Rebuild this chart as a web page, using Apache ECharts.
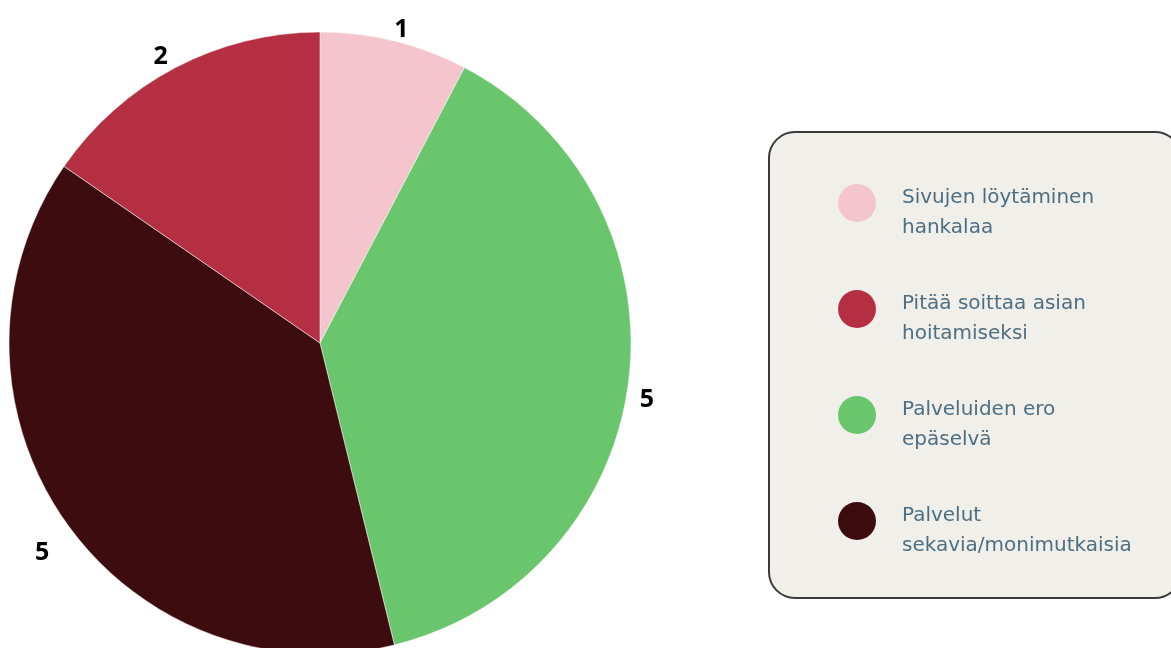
<!DOCTYPE html>
<html>
<head>
<meta charset="utf-8">
<script src="https://cdn.jsdelivr.net/npm/echarts@6/dist/echarts.min.js"></script>
<style>
html,body{margin:0;padding:0;background:#ffffff;}
#chart{width:1171px;height:648px;}
</style>
</head>
<body>
<div id="chart"></div>
<script>
// Slices in drawing (clockwise) order
const categories = [
  'Sivujen löytäminen hankalaa',
  'Palveluiden ero epäselvä',
  'Palvelut sekavia/monimutkaisia',
  'Pitää soittaa asian hoitamiseksi'
];
const values = [1, 5, 5, 2];
const colors = ['#f4c5cc', '#6ac66c', '#3c0c0e', '#b52f42'];
// label nudges (style only)
const labelOffsets = [[-8, 0], [-6, 18], [0, 26], [3, 0]];
// Legend order and its wrapped labels
const legendOrder = [
  'Sivujen löytäminen hankalaa',
  'Pitää soittaa asian hoitamiseksi',
  'Palveluiden ero epäselvä',
  'Palvelut sekavia/monimutkaisia'
];
const legendLines = {
  'Sivujen löytäminen hankalaa': ['Sivujen löytäminen', 'hankalaa'],
  'Pitää soittaa asian hoitamiseksi': ['Pitää soittaa asian', 'hoitamiseksi'],
  'Palveluiden ero epäselvä': ['Palveluiden ero', 'epäselvä'],
  'Palvelut sekavia/monimutkaisia': ['Palvelut', 'sekavia/monimutkaisia']
};

const chart = echarts.init(document.getElementById('chart'), null, {renderer: 'canvas'});
chart.setOption({
  animation: false,
  backgroundColor: '#ffffff',
  graphic: [{
    type: 'rect',
    left: 768, top: 131,
    shape: {width: 412, height: 466, r: 26},
    style: {fill: '#f0efea', stroke: '#3a3a3a', lineWidth: 2},
    z: -1
  }],
  legend: {
    orient: 'vertical',
    left: 838,
    top: 168,
    padding: 0,
    data: legendOrder,
    icon: 'circle',
    itemWidth: 38,
    itemHeight: 38,
    itemGap: 36,
    itemStyle: {borderWidth: 0},
    formatter: name => '{s| }\n' + legendLines[name].map(l => '{t|' + l + '}').join('\n'),
    textStyle: {
      fontFamily: 'DejaVu Sans',
      fontSize: 20,
      color: '#4e6e82',
      padding: [0, 0, 0, 21],
      rich: {
        s: {fontSize: 10, lineHeight: 20, fontFamily: 'DejaVu Sans', color: '#4e6e82'},
        t: {fontSize: 20, lineHeight: 30, fontFamily: 'DejaVu Sans', color: '#4e6e82'}
      }
    }
  },
  series: [{
    type: 'pie',
    center: [320, 343],
    radius: 311,
    startAngle: 90,
    clockwise: true,
    data: categories.map((c, i) => ({
      name: c, value: values[i],
      itemStyle: {color: colors[i]},
      label: {offset: labelOffsets[i]}
    })),
    itemStyle: {borderColor: '#ffffff', borderWidth: 0.5},
    label: {
      show: true,
      position: 'outside',
      formatter: '{c}',
      fontFamily: 'Open Sans',
      fontWeight: 'bold',
      fontSize: 25,
      color: '#000000'
    },
    labelLine: {show: false, length: 12, length2: 0},
    emphasis: {disabled: true}
  }]
});
</script>
</body>
</html>
